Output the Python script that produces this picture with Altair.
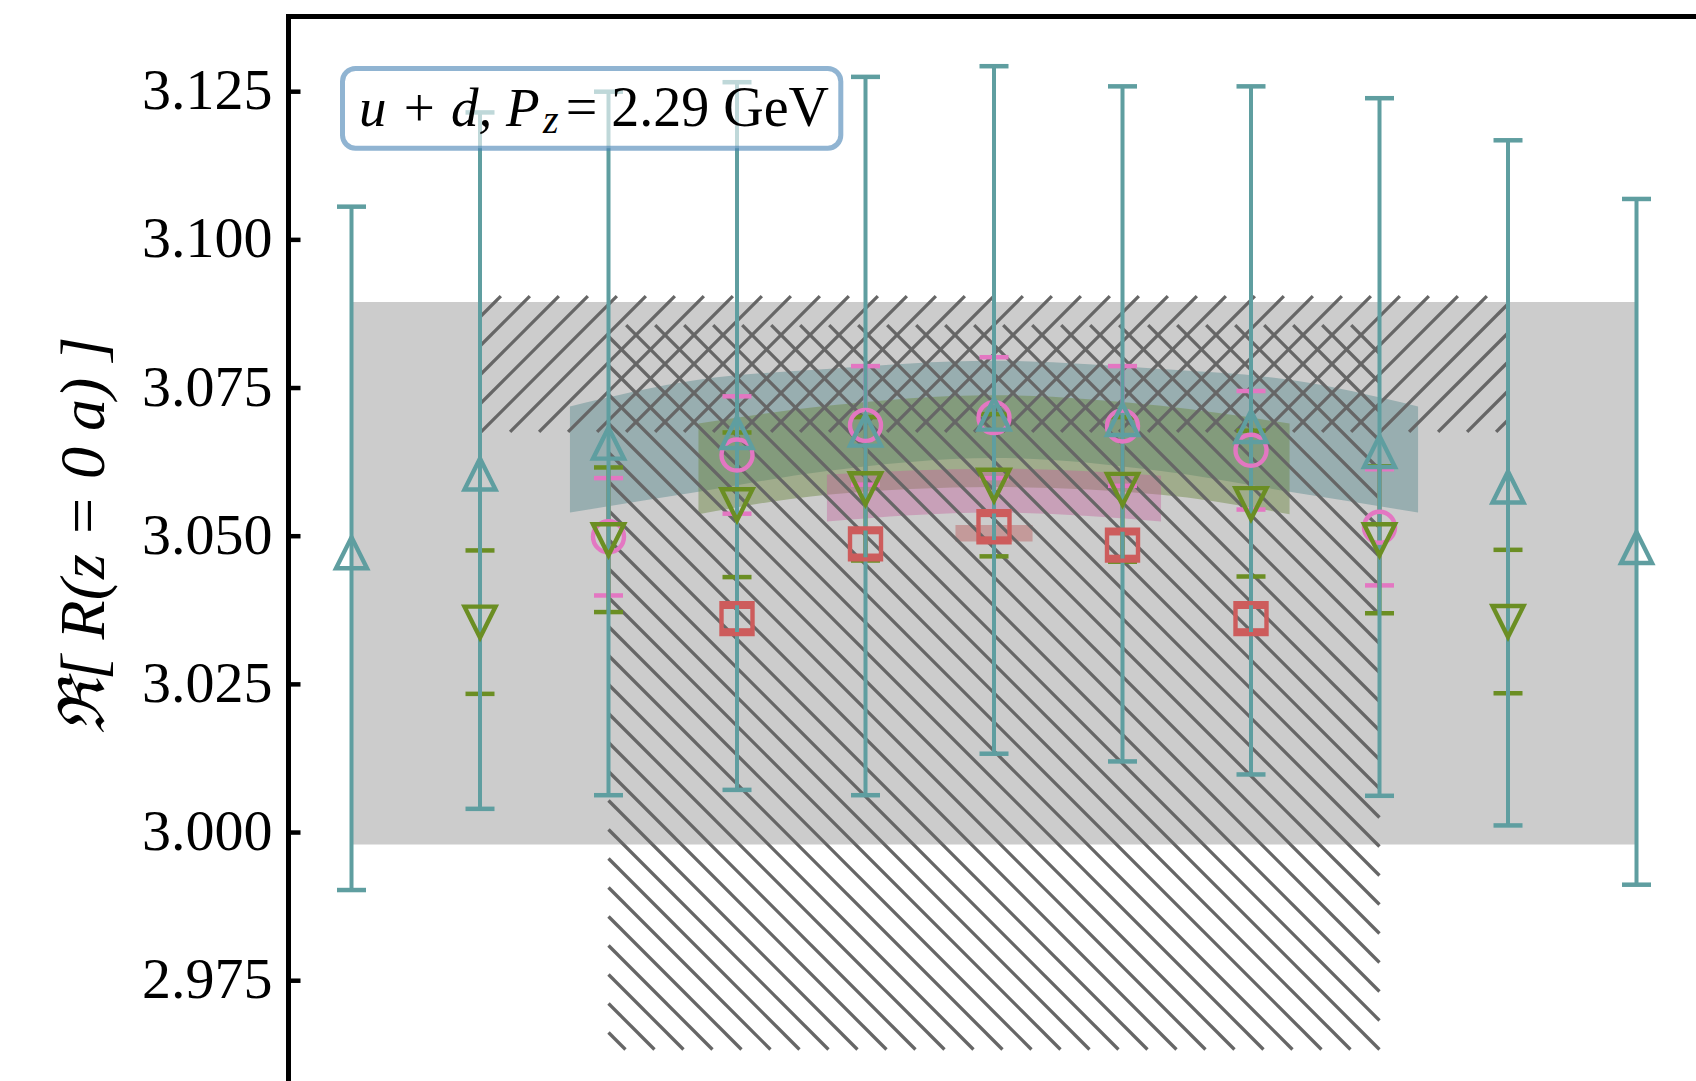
import math
import altair as alt
import pandas as pd

# ---------------- values ----------------
YTICKS = [2.975, 3.000, 3.025, 3.050, 3.075, 3.100, 3.125]

# tsep = 10 (teal, triangles up)
teal_x = [-5, -4, -3, -2, -1, 0, 1, 2, 3, 4, 5]
teal_y = [3.0472, 3.0605, 3.0657, 3.0675, 3.0679, 3.0706, 3.0697, 3.0685, 3.0643, 3.0583, 3.0481]
teal_lo = [2.9903, 3.0040, 3.0063, 3.0072, 3.0063, 3.0133, 3.0120, 3.0098, 3.0062, 3.0012, 2.9912]
teal_hi = [3.1056, 3.1215, 3.1250, 3.1266, 3.1275, 3.1293, 3.1259, 3.1259, 3.1239, 3.1168, 3.1069]

# tsep = 8 (olive, triangles down)
green_x = [-4, -3, -2, -1, 0, 1, 2, 3, 4]
green_y = [3.0355, 3.0494, 3.0553, 3.0580, 3.0586, 3.0579, 3.0555, 3.0494, 3.0356]
green_err = [0.0121, 0.0122, 0.0122, 0.0121, 0.0120, 0.0122, 0.0123, 0.0124, 0.0121]

# tsep = 6 (pink, circles)
pink_x = [-3, -2, -1, 0, 1, 2, 3]
pink_y = [3.0499, 3.0637, 3.0687, 3.0700, 3.0686, 3.0645, 3.0515]
pink_err = [0.0099, 0.0099, 0.0100, 0.0102, 0.0101, 0.0100, 0.0098]

# tsep = 4 (red, squares)
red_x = [-2, -1, 0, 1, 2]
red_y = [3.0361, 3.0487, 3.0516, 3.0485, 3.0361]
red_err = [0.0020, 0.0020, 0.0020, 0.0020, 0.0020]

# fit bands
teal_band_x = [-3.3, -2.3, -1.3, 0.0, 1.3, 2.3, 3.3]
teal_band_lo = [3.0540, 3.0575, 3.0610, 3.0632, 3.0610, 3.0575, 3.0540]
teal_band_hi = [3.0719, 3.0764, 3.0782, 3.0796, 3.0782, 3.0764, 3.0719]
green_band_x = [-2.3, -1.3, 0.0, 1.3, 2.3]
green_band_lo = [3.0537, 3.0570, 3.0583, 3.0570, 3.0537]
green_band_hi = [3.0690, 3.0720, 3.0738, 3.0720, 3.0690]
pink_band_x = [-1.3, 0.0, 1.3]
pink_band_lo = [3.0525, 3.0540, 3.0525]
pink_band_hi = [3.0604, 3.0614, 3.0602]
red_band_x = [-0.3, 0.3]
red_band_lo = [3.0491, 3.0491]
red_band_hi = [3.0519, 3.0519]

# shaded / hatched result regions: [x0, x1, y0, y1]
gray_band = [-5, 5, 2.9980, 3.0895]
hatch_fwd = [-4, 4, 3.0676, 3.0905]    # '//'
hatch_back = [-3, 3, 2.9634, 3.0856]   # '\\'

# ---------------- layout ----------------
W, H = 1408, 1065
X_DOM = [-5.4942, 5.4630]
Y_DOM = [2.95808, 3.13777]

TEAL = "#5F9EA0"
GREEN = "#6B8E23"
PINK = "#E377C2"
RED = "#CD5C5C"
TEAL_BAND = "#649094"
GREEN_BAND = "#6A853E"
PINK_BAND = "#C25E9A"
RED_BAND = "#B85050"
SERIF = "Liberation Serif"

xs = alt.Scale(domain=X_DOM, nice=False, zero=False)
ys = alt.Scale(domain=Y_DOM, nice=False, zero=False)

AX_X = alt.Axis(orient="top", labels=False, ticks=False, grid=False, domain=True,
                domainColor="black", domainWidth=5, domainCap="square", title=None)
AX_Y = alt.Axis(
    orient="left", values=YTICKS, format=".3f", ticks=False, tickSize=0, grid=False,
    labelPadding=16, labelFont=SERIF, labelFontSize=58, labelColor="black",
    labelAlign="right", labelBaseline="middle", labelOverlap=False, labelFlush=False,
    domain=True, domainColor="black", domainWidth=5, domainCap="square",
    title="ℜ[ R(z = 0 a) ]", titleFont=SERIF, titleFontSize=64, titleFontStyle="italic",
    titleFontWeight="normal", titleColor="black", titleAngle=270, titleX=-185, titleY=519,
    titleAlign="center", titleBaseline="alphabetic")


def X(field):
    return alt.X(field, type="quantitative", scale=xs, axis=AX_X)


def Y(field):
    return alt.Y(field, type="quantitative", scale=ys, axis=AX_Y)


# hatch pattern lines (45 degrees on screen), clipped to the region
def hatch_lines(region, direction, spacing=29.0, phase=0.0):
    x0, x1, y0, y1 = region
    fx = lambda v: (v - X_DOM[0]) / (X_DOM[1] - X_DOM[0]) * W
    fy = lambda v: (Y_DOM[1] - v) / (Y_DOM[1] - Y_DOM[0]) * H
    bx = lambda p: X_DOM[0] + p / W * (X_DOM[1] - X_DOM[0])
    by = lambda p: Y_DOM[1] - p / H * (Y_DOM[1] - Y_DOM[0])
    PX0, PX1 = fx(x0), fx(x1)
    PT, PB = fy(y1), fy(y0)
    rows = []
    if direction == "/":
        cmin, cmax = PX0 + PT, PX1 + PB
    else:
        cmin, cmax = PX0 - PB, PX1 - PT
    k = math.ceil((cmin - phase) / spacing)
    while phase + k * spacing <= cmax:
        c = phase + k * spacing
        if direction == "/":
            a = max(PX0, c - PB)
            b = min(PX1, c - PT)
            if b - a > 0.5:
                rows.append(dict(xa=bx(a), ya=by(c - a), xb=bx(b), yb=by(c - b)))
        else:
            a = max(PX0, c + PT)
            b = min(PX1, c + PB)
            if b - a > 0.5:
                rows.append(dict(xa=bx(a), ya=by(a - c), xb=bx(b), yb=by(b - c)))
        k += 1
    return pd.DataFrame(rows)


# ---------------- layers ----------------
gray_df = pd.DataFrame([dict(x0=gray_band[0], x1=gray_band[1], y0=gray_band[2], y1=gray_band[3])])
gray = alt.Chart(gray_df).mark_rect(color="#cccccc").encode(
    x=X("x0"), x2="x1:Q", y=Y("y0"), y2="y1:Q")


def band(xv, lo, hi, color, op):
    df = pd.DataFrame(dict(x=xv, lo=lo, hi=hi))
    return alt.Chart(df).mark_area(color=color, opacity=op, interpolate="monotone").encode(
        x=X("x"), y=Y("lo"), y2="hi")


bands = [
    band(teal_band_x, teal_band_lo, teal_band_hi, TEAL_BAND, 0.5),
    band(green_band_x, green_band_lo, green_band_hi, GREEN_BAND, 0.45),
    band(pink_band_x, pink_band_lo, pink_band_hi, PINK_BAND, 0.4),
    band(red_band_x, red_band_lo, red_band_hi, RED_BAND, 0.4),
]


def hatch_layer(df):
    return alt.Chart(df).mark_rule(color="#666666", strokeWidth=3.3).encode(
        x=X("xa"), y=Y("ya"), x2="xb", y2="yb")


hatches = [hatch_layer(hatch_lines(hatch_fwd, "/")), hatch_layer(hatch_lines(hatch_back, "\\"))]


def series_df(xv, yv, lo, hi):
    return pd.DataFrame(dict(x=xv, y=yv, lo=lo, hi=hi))


red_df = series_df(red_x, red_y, [a - e for a, e in zip(red_y, red_err)], [a + e for a, e in zip(red_y, red_err)])
pink_df = series_df(pink_x, pink_y, [a - e for a, e in zip(pink_y, pink_err)], [a + e for a, e in zip(pink_y, pink_err)])
green_df = series_df(green_x, green_y, [a - e for a, e in zip(green_y, green_err)], [a + e for a, e in zip(green_y, green_err)])
teal_df = series_df(teal_x, teal_y, teal_lo, teal_hi)


def errbars(df, color):
    bar = alt.Chart(df).mark_rule(color=color, strokeWidth=4).encode(x=X("x"), y=Y("lo"), y2="hi")
    caps_df = pd.concat([df[["x", "lo"]].rename(columns={"lo": "c"}),
                         df[["x", "hi"]].rename(columns={"hi": "c"})])
    caps = alt.Chart(caps_df).mark_tick(color=color, orient="horizontal", size=29, thickness=4.5,
                                        opacity=1).encode(x=X("x"), y=Y("c"))
    return [bar, caps]


TRI_UP = "M0,-1L1,1L-1,1Z"
TRI_DOWN = "M0,1L1,-1L-1,-1Z"


def markers(df, color, shape):
    return alt.Chart(df).mark_point(shape=shape, size=961, filled=False, strokeWidth=4.4,
                                    color=color, opacity=1).encode(x=X("x"), y=Y("y"))


err_layers = errbars(red_df, RED) + errbars(pink_df, PINK) + errbars(green_df, GREEN) + errbars(teal_df, TEAL)
mk_layers = [markers(red_df, RED, "square"), markers(pink_df, PINK, "circle"),
             markers(green_df, GREEN, TRI_DOWN), markers(teal_df, TEAL, TRI_UP)]

tick_df = pd.DataFrame(dict(t=YTICKS))
ticks = alt.Chart(tick_df).mark_rule(color="black", strokeWidth=4.5).encode(
    y=Y("t"), x=alt.value(0), x2=alt.value(12.5))

box = alt.Chart(tick_df.head(1)).mark_rect(
    fill="white", fillOpacity=0.6, stroke="steelblue", strokeOpacity=0.6, strokeWidth=5,
    cornerRadius=13).encode(x=alt.value(54.5), x2=alt.value(552.8), y=alt.value(52.5), y2=alt.value(132.2))

lab_df = pd.DataFrame(dict(a=["u + d, P"], b=["z"], c=["= 2.29 GeV"]))
t1 = alt.Chart(lab_df).mark_text(font=SERIF, fontSize=55, fontStyle="italic", align="left",
                                 baseline="alphabetic", color="black").encode(
    text="a:N", x=alt.value(71), y=alt.value(110))
t2 = alt.Chart(lab_df).mark_text(font=SERIF, fontSize=40, fontStyle="italic", align="left",
                                 baseline="alphabetic", color="black").encode(
    text="b:N", x=alt.value(255), y=alt.value(117))
t3 = alt.Chart(lab_df).mark_text(font=SERIF, fontSize=56, align="right",
                                 baseline="alphabetic", color="black").encode(
    text="c:N", x=alt.value(541), y=alt.value(110))

chart = alt.layer(gray, *bands, *hatches, *err_layers, *mk_layers, ticks, box, t1, t2, t3).properties(
    width=W, height=H,
    autosize=alt.AutoSizeParams(type="none"),
    padding={"left": 288, "top": 16, "right": 0, "bottom": 0},
).configure_view(strokeWidth=0).configure(background="white")

chart.save("out.html", embed_options={"renderer": "svg", "actions": False})
